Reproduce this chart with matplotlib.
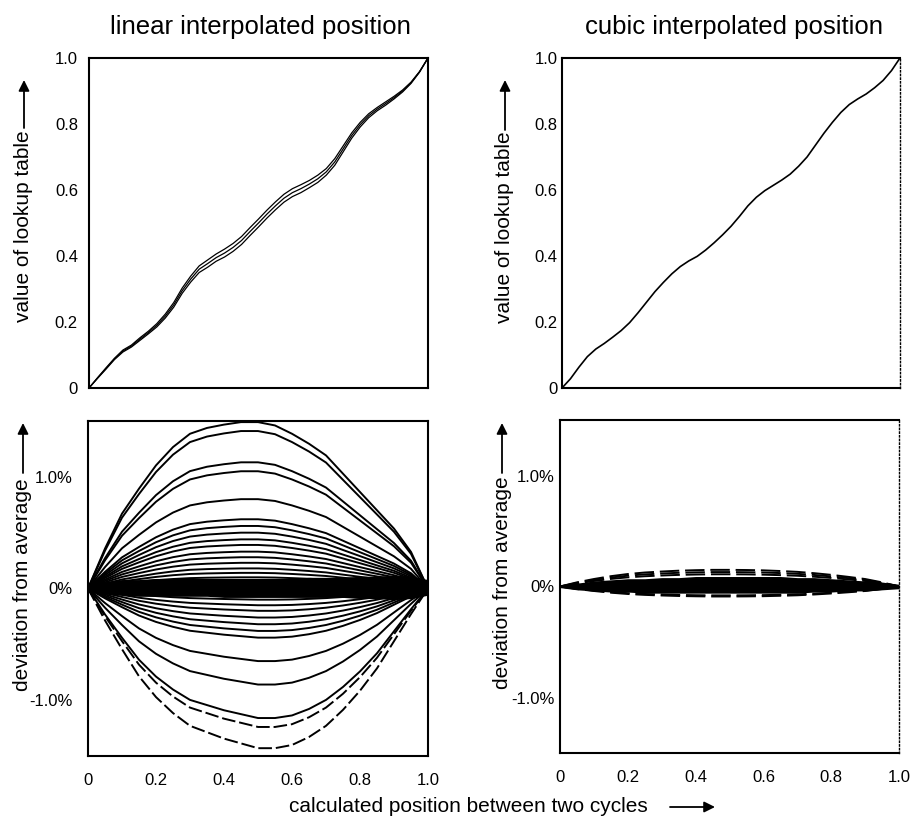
import numpy as np
import matplotlib
matplotlib.use("Agg")
import matplotlib.pyplot as plt
from matplotlib.patches import FancyArrowPatch

plt.rcParams["font.family"] = ["Liberation Sans", "DejaVu Sans"]

W, H = 915, 818

# fine sample positions for the top row
X_FINE = [0.0, 0.025, 0.05, 0.075, 0.1, 0.125, 0.15, 0.175, 0.2, 0.225, 0.25,
          0.275, 0.3, 0.325, 0.35, 0.375, 0.4, 0.425, 0.45, 0.475, 0.5,
          0.525, 0.55, 0.575, 0.6, 0.625, 0.65, 0.675, 0.7, 0.725, 0.75,
          0.775, 0.8, 0.825, 0.85, 0.875, 0.9, 0.925, 0.95, 0.975, 1.0]

# top row: value of lookup table
LINEAR_MID = [0.0, 0.03, 0.059, 0.088, 0.112, 0.127, 0.148, 0.168, 0.19, 0.218, 0.252,
              0.295, 0.33, 0.36, 0.377, 0.395, 0.409, 0.426, 0.447, 0.474, 0.50,
              0.527, 0.552, 0.575, 0.592, 0.604, 0.618, 0.634, 0.655, 0.685, 0.725,
              0.765, 0.798, 0.825, 0.845, 0.862, 0.88, 0.90, 0.925, 0.958, 1.0]
LINEAR_SPREAD = [0.0, 0.001, 0.002, 0.002, 0.003, 0.003, 0.004, 0.004, 0.005, 0.006, 0.007,
                 0.008, 0.009, 0.010, 0.011, 0.011, 0.012, 0.012, 0.012, 0.012, 0.012,
                 0.012, 0.012, 0.012, 0.012, 0.012, 0.011, 0.011, 0.010, 0.010, 0.009,
                 0.008, 0.007, 0.006, 0.005, 0.005, 0.004, 0.003, 0.002, 0.001, 0.0]
CUBIC_MID = [0.0, 0.028, 0.063, 0.095, 0.118, 0.135, 0.154, 0.174, 0.198, 0.228, 0.26,
             0.292, 0.32, 0.346, 0.368, 0.385, 0.399, 0.418, 0.44, 0.464, 0.49,
             0.52, 0.552, 0.578, 0.598, 0.614, 0.63, 0.648, 0.672, 0.70, 0.736,
             0.772, 0.805, 0.835, 0.859, 0.876, 0.891, 0.91, 0.932, 0.962, 1.0]

# sample positions for the bottom row
X_POS = [0.0, 0.05, 0.1, 0.15, 0.2, 0.25, 0.3, 0.35, 0.4, 0.45, 0.5,
         0.55, 0.6, 0.65, 0.7, 0.75, 0.8, 0.85, 0.9, 0.95, 1.0]

# bottom-left: deviation from average (%), linear interpolation
DEV_UP_SHAPE = [0.0, 0.24, 0.45, 0.60, 0.74, 0.85, 0.93, 0.965, 0.985, 1.0, 1.0,
                0.98, 0.93, 0.87, 0.80, 0.69, 0.58, 0.47, 0.36, 0.22, 0.0]
DEV_DN_SHAPE = [0.0, 0.20, 0.38, 0.55, 0.68, 0.78, 0.86, 0.90, 0.94, 0.97, 1.0,
                1.0, 0.98, 0.93, 0.86, 0.76, 0.64, 0.50, 0.33, 0.16, 0.0]
DEV_UP_PEAKS = [1.49, 1.41, 1.13, 1.05, 0.80, 0.62, 0.56, 0.50, 0.44, 0.39, 0.33,
                0.28, 0.23, 0.18, 0.14, 0.10, 0.07, 0.04]
DEV_DN_PEAKS = [-1.43, -1.24, -1.16, -0.86, -0.65, -0.44, -0.38, -0.32, -0.26, -0.20,
                -0.15, -0.10, -0.06, -0.03]
DEV_BAND_TOP = [0.03, 0.06, 0.08, 0.08, 0.09, 0.09, 0.09, 0.09, 0.09, 0.09, 0.09,
                0.09, 0.09, 0.10, 0.10, 0.10, 0.11, 0.11, 0.12, 0.11, 0.08]
DEV_BAND_BOT = [-0.02, -0.05, -0.06, -0.07, -0.07, -0.07, -0.07, -0.07, -0.08, -0.08, -0.08,
                -0.08, -0.08, -0.08, -0.08, -0.08, -0.09, -0.09, -0.10, -0.09, -0.06]

# bottom-right: deviation from average (%), cubic interpolation
CUB_SHAPE = [0.0, 0.25, 0.45, 0.62, 0.75, 0.84, 0.90, 0.95, 0.98, 1.0, 1.0,
             0.99, 0.97, 0.93, 0.88, 0.80, 0.70, 0.58, 0.45, 0.25, 0.0]
CUB_UP_PEAKS = [0.15, 0.13, 0.11]
CUB_DN_PEAKS = [-0.09, -0.08]
CUB_BAND_TOP = [0.01, 0.03, 0.05, 0.06, 0.07, 0.07, 0.08, 0.08, 0.09, 0.09, 0.09,
                0.09, 0.09, 0.09, 0.08, 0.08, 0.07, 0.06, 0.05, 0.04, 0.02]
CUB_BAND_BOT = [-0.01, -0.03, -0.04, -0.05, -0.05, -0.06, -0.06, -0.06, -0.06, -0.06, -0.06,
                -0.06, -0.06, -0.06, -0.06, -0.05, -0.05, -0.04, -0.04, -0.03, -0.02]

X_TICKS = [0, 0.2, 0.4, 0.6, 0.8, 1.0]
X_TICKLABELS = ["0", "0.2", "0.4", "0.6", "0.8", "1.0"]
V_TICKS = [0, 0.2, 0.4, 0.6, 0.8, 1.0]
V_TICKLABELS = ["0", "0.2", "0.4", "0.6", "0.8", "1.0"]
D_TICKS = [-1.0, 0.0, 1.0]
D_TICKLABELS = ["-1.0%", "0%", "1.0%"]


def box(l, t, r, b):
    # axes rect from pixel edges
    return [l / W, 1 - b / H, (r - l) / W, (b - t) / H]


def fx(x, y):
    return (x / W, 1 - y / H)


fig = plt.figure(figsize=(W / 100, H / 100), dpi=100)
ax_lin = fig.add_axes(box(89, 58, 428, 388))
ax_cub = fig.add_axes(box(562, 58, 900, 388))
ax_dl = fig.add_axes(box(88, 421, 428, 756))
ax_dc = fig.add_axes(box(560, 420, 899, 753))

for ax in (ax_lin, ax_cub, ax_dl, ax_dc):
    ax.set_xlim(0, 1)
    ax.set_xticks(X_TICKS)
    ax.tick_params(length=0, labelsize=12)
    for s in ax.spines.values():
        s.set_linewidth(1.5)
for ax in (ax_cub, ax_dc):
    ax.spines["right"].set_linestyle(":")
    ax.spines["right"].set_linewidth(1.0)

# top row
xf = np.array(X_FINE)
mid = np.array(LINEAR_MID); sp = np.array(LINEAR_SPREAD)
for k in (-1, 0, 1):
    ax_lin.plot(xf, mid + k * sp, color="k", lw=0.9)
ax_cub.plot(xf, CUBIC_MID, color="k", lw=1.2)
for ax, pad in ((ax_lin, 8), (ax_cub, 3)):
    ax.set_ylim(0, 1)
    ax.set_yticks(V_TICKS)
    ax.set_yticklabels(V_TICKLABELS)
    ax.set_xticklabels([])
    ax.tick_params(axis="y", pad=pad)

# bottom-left
x = np.array(X_POS)
ax_dl.fill_between(x, DEV_BAND_BOT, DEV_BAND_TOP, color="k", lw=0)
for p in DEV_UP_PEAKS:
    ax_dl.plot(x, p * np.array(DEV_UP_SHAPE), color="k", lw=1.4)
for i, p in enumerate(DEV_DN_PEAKS):
    ls = (0, (7, 2)) if i in (0, 1) else "-"
    ax_dl.plot(x, p * np.array(DEV_DN_SHAPE), color="k", lw=1.4, ls=ls)

# bottom-right
ax_dc.fill_between(x, CUB_BAND_BOT, CUB_BAND_TOP, color="k", lw=0)
for p in CUB_UP_PEAKS + CUB_DN_PEAKS:
    ax_dc.plot(x, p * np.array(CUB_SHAPE), color="k", lw=1.4, ls=(0, (10, 3)))

for ax, pad in ((ax_dl, 11), (ax_dc, 4)):
    ax.set_ylim(-1.5, 1.5)
    ax.set_yticks(D_TICKS)
    ax.set_yticklabels(D_TICKLABELS)
    ax.set_xticklabels(X_TICKLABELS)
    ax.tick_params(axis="y", pad=pad)
    ax.tick_params(axis="x", pad=12)

# titles and axis labels
fig.text(*fx(260, 27), "linear interpolated position", ha="center", va="center", fontsize=18.5)
fig.text(*fx(734, 27), "cubic interpolated position", ha="center", va="center", fontsize=18.5)
for (tx, ty), s in (((24, 226), "value of lookup table"), ((505, 227), "value of lookup table"),
                    ((23, 585), "deviation from average"), ((502, 583), "deviation from average")):
    fig.text(*fx(tx, ty), s, rotation=90, ha="center", va="center", fontsize=15)
fig.text(*fx(468, 807), "calculated position between two cycles", ha="center", va="center",
         fontsize=15)

arrow = dict(arrowstyle="-|>", color="k", lw=1.3, mutation_scale=16, shrinkA=0, shrinkB=0)
for (x0, y0), (x1, y1) in (((24, 128), (24, 80)), ((505, 130), (505, 80)),
                           ((23, 473), (23, 423)), ((502, 473), (502, 423)),
                           ((670, 807), (715, 807))):
    fig.add_artist(FancyArrowPatch(fx(x0, y0), fx(x1, y1), transform=fig.transFigure, **arrow))

fig.savefig("out.png", dpi=100)
